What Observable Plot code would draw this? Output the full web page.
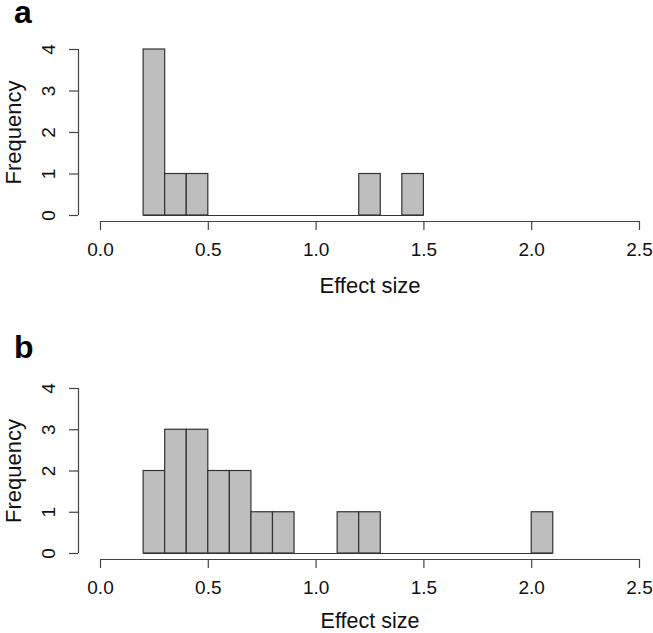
<!DOCTYPE html>
<html>
<head>
<meta charset="utf-8">
<script src="https://cdn.jsdelivr.net/npm/d3@7"></script>
<script src="https://cdn.jsdelivr.net/npm/@observablehq/plot@0.6"></script>
<style>
  html, body { margin: 0; padding: 0; background: #fff; }
  #wrap { position: relative; width: 653px; height: 633px; overflow: hidden; }
  #wrap svg { position: absolute; left: 0; font-family: "Liberation Sans", Arial, sans-serif; }
</style>
</head>
<body>
<div id="wrap"></div>
<script>
// Bin breaks (lower..upper edges) and counts per bin
const breaksA = [0.2, 0.3, 0.4, 0.5, 0.6, 0.7, 0.8, 0.9, 1.0, 1.1, 1.2, 1.3, 1.4, 1.5];
const countsA = [4, 1, 1, 0, 0, 0, 0, 0, 0, 0, 1, 0, 1];

const breaksB = [0.2, 0.3, 0.4, 0.5, 0.6, 0.7, 0.8, 0.9, 1.0, 1.1, 1.2, 1.3, 1.4, 1.5, 1.6, 1.7, 1.8, 1.9, 2.0, 2.1];
const countsB = [2, 3, 3, 2, 2, 1, 1, 0, 0, 1, 1, 0, 0, 0, 0, 0, 0, 0, 1];

const xTicks = [0.0, 0.5, 1.0, 1.5, 2.0, 2.5];
const yTicks = [0, 1, 2, 3, 4];
const xLabel = "Effect size";
const yLabel = "Frequency";

function panel(breaks, counts, letter, o) {
  const bins = counts.map((c, i) => ({x1: breaks[i], x2: breaks[i + 1], count: c}));
  const axisColor = "#444";
  const x0 = xTicks[0], x1 = xTicks[xTicks.length - 1];
  const y0 = yTicks[0], y1 = yTicks[yTicks.length - 1];
  return Plot.plot({
    width: 653,
    height: o.height,
    marginTop: o.yTop,
    marginBottom: o.height - (o.yBottom + 6),
    marginLeft: 78,
    marginRight: 14,
    style: {fontFamily: '"Liberation Sans", Arial, sans-serif', fontSize: "19px", color: "#111", background: "white", overflow: "visible"},
    x: {domain: [x0, x1], range: [100, 639], axis: null},
    y: {domain: [y0, y1], range: [o.yBottom, o.yTop], axis: null},
    marks: [
      // x axis: domain line, ticks, labels
      Plot.ruleY([y0], {x1: x0, x2: x1, dy: 6, stroke: axisColor, strokeWidth: 1.2}),
      Plot.axisX({ticks: xTicks, tickFormat: d3.format(".1f"), tickSize: 9, tickPadding: 12, stroke: axisColor, strokeWidth: 1.2, fill: "#111", label: null}),
      // y axis: domain line, ticks, rotated labels
      Plot.ruleX([x0], {y1: y0, y2: y1, dx: -22, stroke: axisColor, strokeWidth: 1.2}),
      Plot.axisY({ticks: yTicks, tickFormat: () => "", tickSize: 9, stroke: axisColor, strokeWidth: 1.2, label: null}),
      Plot.text(yTicks, {y: d => d, text: d => d3.format("d")(d), frameAnchor: "left", dx: -29.5, rotate: -90, textAnchor: "middle", lineAnchor: "middle", fontSize: 19, fill: "#111"}),
      // baseline of the histogram (covers empty bins)
      Plot.ruleY([0], {x1: breaks[0], x2: breaks[breaks.length - 1], stroke: "#333", strokeWidth: 1.2}),
      // bars
      Plot.rectY(bins.filter(d => d.count > 0), {x1: "x1", x2: "x2", y: "count", fill: "#bebebe", stroke: "#333", strokeWidth: 1.2}),
      // axis titles
      Plot.text([xLabel], {x: (x0 + x1) / 2, frameAnchor: "bottom", dy: o.xLabelDy, textAnchor: "middle", lineAnchor: "middle", fontSize: o.labelSize, fill: "#111"}),
      Plot.text([yLabel], {y: (y0 + y1) / 2, frameAnchor: "left", dx: -65, rotate: -90, textAnchor: "middle", lineAnchor: "middle", fontSize: 22, fill: "#111"}),
      // panel letter
      Plot.text([letter], {frameAnchor: "top-left", dx: -64.5, dy: o.letterBase - o.yTop, textAnchor: "start", lineAnchor: "bottom", fontSize: 32, fontWeight: "bold", fill: "#000"})
    ]
  });
}

const wrap = document.getElementById("wrap");
const a = panel(breaksA, countsA, "a", {height: 300, yTop: 49, yBottom: 215, xLabelDy: 64, labelSize: 22, letterBase: 22});
a.style.top = "0px";
wrap.appendChild(a);
const b = panel(breaksB, countsB, "b", {height: 333, yTop: 88, yBottom: 253, xLabelDy: 62, labelSize: 21.5, letterBase: 57});
b.style.top = "300px";
wrap.appendChild(b);
</script>
</body>
</html>
